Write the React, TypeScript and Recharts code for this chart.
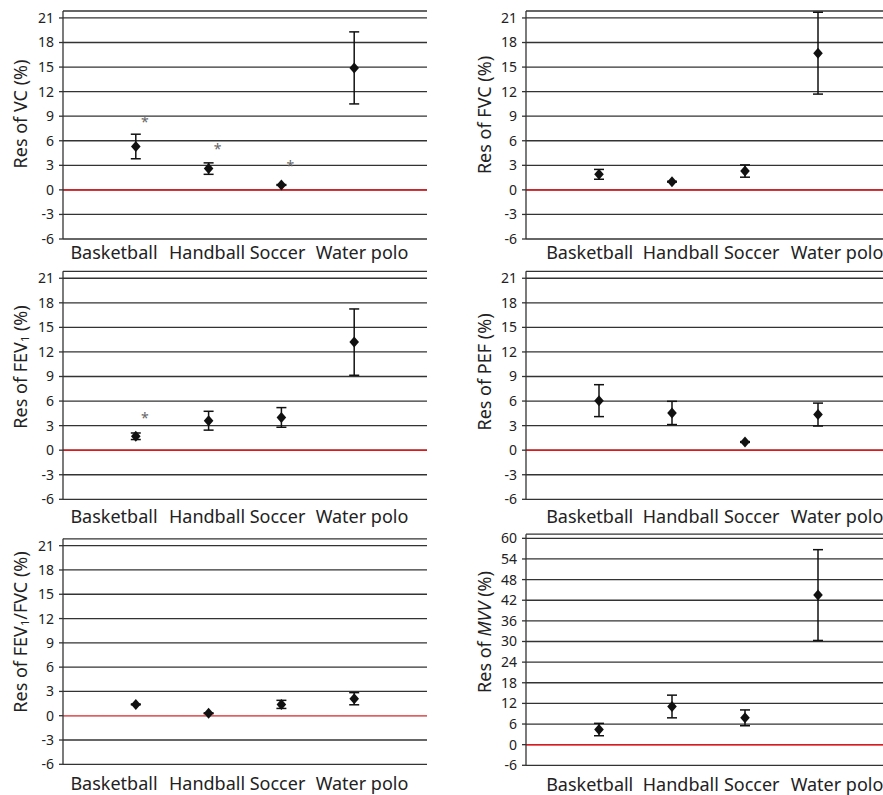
import React from 'react';
import { ScatterChart, Scatter, XAxis, YAxis, CartesianGrid, ReferenceLine, ErrorBar } from 'recharts';

const categories = ['Basketball', 'Handball', 'Soccer', 'Water polo'];
const catX = [1, 2, 3, 4];

const vcMean = [5.3, 2.6, 0.6, 14.9];
const vcSd = [1.5, 0.7, 0.05, 4.4];
const vcSig = [8.5, 5.2, 3.2, null];

const fvcMean = [1.9, 1.0, 2.3, 16.7];
const fvcSd = [0.6, 0.05, 0.75, 5.0];

const fev1Mean = [1.7, 3.6, 4.0, 13.2];
const fev1Sd = [0.4, 1.15, 1.2, 4.05];
const fev1Sig = [4.2, null, null, null];

const pefMean = [6.05, 4.55, 1.0, 4.35];
const pefSd = [1.95, 1.42, 0.05, 1.4];

const ratioMean = [1.4, 0.3, 1.4, 2.1];
const ratioSd = [0.05, 0.05, 0.5, 0.75];

const mvvMean = [4.4, 11.1, 7.8, 43.5];
const mvvSd = [1.8, 3.3, 2.3, 13.2];

const ticks21 = [-6, -3, 0, 3, 6, 9, 12, 15, 18, 21];
const ticks60 = [-6, 0, 6, 12, 18, 24, 30, 36, 42, 48, 54, 60];

const FONT = '"Noto Sans", "Open Sans", sans-serif';
const PAD = 12;

const rows = (mean: number[], sd: number[]) => mean.map((m, i) => ({ x: catX[i], y: m, err: sd[i] }));
const sigRows = (sig: (number | null)[]) =>
  sig.map((s, i) => (s == null ? null : { x: catX[i], y: s })).filter(Boolean) as { x: number; y: number }[];

const Diamond = (props: any) => {
  const { cx, cy } = props;
  if (cx == null || cy == null) return null;
  return <path d={`M${cx},${cy - 5.5}L${cx + 4.8},${cy}L${cx},${cy + 5.5}L${cx - 4.8},${cy}Z`} fill="#111" />;
};

const Star = (props: any) => {
  const { cx, cy } = props;
  if (cx == null || cy == null) return null;
  return (
    <text x={cx + 9} y={cy + 7} textAnchor="middle" fontSize={14} fill="#666" fontFamily={FONT}>
      *
    </text>
  );
};

const CatTick = (props: any) => {
  const { x, y, payload, offsets, base } = props;
  const idx = catX.indexOf(payload.value);
  if (idx < 0) return null;
  return (
    <text x={x + offsets[idx]} y={y + base} textAnchor="middle" fontSize={18} fill="#222" fontFamily={FONT}>
      {categories[idx]}
    </text>
  );
};

type PanelCfg = {
  left: number;
  top: number;
  w: number;
  h: number;
  plotLeft: number;
  plotWidth: number;
  plotTop: number;
  plotBottom: number;
  domTop: number;
  ticks: number[];
  data: { x: number; y: number; err: number }[];
  sig: { x: number; y: number }[];
  labelX: number;
  labelY: number;
  label: React.ReactNode;
  base: number;
  offsets: number[];
  red: string;
};

const leftOff = [-21.8, -1.6, -3.9, 7.8];
const rightOff = [-9.3, 8.8, 6.7, 19];

const sub1 = (
  <tspan fontSize={11} dy={4}>
    1
  </tspan>
);

const panels: PanelCfg[] = [
  {
    left: 0, top: 0, w: 440, h: 265, plotLeft: 63, plotWidth: 364, plotTop: 11, plotBottom: 239, domTop: 21.85,
    ticks: ticks21, data: rows(vcMean, vcSd), sig: sigRows(vcSig), labelX: 20, labelY: 114,
    label: <tspan>Res of VC (%)</tspan>, base: 20, offsets: leftOff, red: '#e3161b',
  },
  {
    left: 440, top: 0, w: 461, h: 265, plotLeft: 86, plotWidth: 365, plotTop: 11, plotBottom: 239, domTop: 21.85,
    ticks: ticks21, data: rows(fvcMean, fvcSd), sig: [], labelX: 44, labelY: 115,
    label: <tspan>Res of FVC (%)</tspan>, base: 20, offsets: rightOff, red: '#e3161b',
  },
  {
    left: 0, top: 265, w: 440, h: 265, plotLeft: 63, plotWidth: 364, plotTop: 6.3, plotBottom: 234.3, domTop: 21.85,
    ticks: ticks21, data: rows(fev1Mean, fev1Sd), sig: sigRows(fev1Sig), labelX: 20, labelY: 102,
    label: (
      <>
        <tspan>Res of FEV</tspan>
        {sub1}
        <tspan dy={-4}>{'  (%)'}</tspan>
      </>
    ),
    base: 24, offsets: leftOff, red: '#e3161b',
  },
  {
    left: 440, top: 265, w: 461, h: 265, plotLeft: 86, plotWidth: 365, plotTop: 6.3, plotBottom: 234.3, domTop: 21.85,
    ticks: ticks21, data: rows(pefMean, pefSd), sig: [], labelX: 44, labelY: 107,
    label: <tspan>Res of PEF (%)</tspan>, base: 24, offsets: rightOff, red: '#e3161b',
  },
  {
    left: 0, top: 530, w: 440, h: 265, plotLeft: 63, plotWidth: 364, plotTop: 8.8, plotBottom: 234.3, domTop: 21.85,
    ticks: ticks21, data: rows(ratioMean, ratioSd), sig: [], labelX: 20, labelY: 102,
    label: (
      <>
        <tspan>Res of FEV</tspan>
        {sub1}
        <tspan dy={-4}>{'/FVC (%)'}</tspan>
      </>
    ),
    base: 25.5, offsets: leftOff, red: '#ec5a5c',
  },
  {
    left: 440, top: 530, w: 461, h: 265, plotLeft: 86, plotWidth: 365, plotTop: 4.2, plotBottom: 235.3, domTop: 61.2,
    ticks: ticks60, data: rows(mvvMean, mvvSd), sig: [], labelX: 44, labelY: 102,
    label: (
      <>
        <tspan>Res of </tspan>
        <tspan fontStyle="italic">MVV</tspan>
        <tspan> (%)</tspan>
      </>
    ),
    base: 25.5, offsets: rightOff, red: '#e3161b',
  },
];

const Panel = ({ p }: { p: PanelCfg }) => {
  const h = p.h + PAD;
  const plotTop = p.plotTop + PAD;
  const plotBottom = p.plotBottom + PAD;
  const xAxisH = h - plotBottom;
  return (
    <div style={{ position: 'absolute', left: p.left, top: p.top - PAD, width: p.w, height: h, overflow: 'hidden' }}>
      <ScatterChart
        width={p.w}
        height={h}
        margin={{ top: plotTop, right: p.w - p.plotLeft - p.plotWidth, bottom: 0, left: 0 }}
      >
        <CartesianGrid vertical={false} stroke="#333" strokeWidth={1.3} />
        <XAxis
          type="number"
          dataKey="x"
          domain={[0, 5]}
          ticks={catX}
          interval={0}
          axisLine={false}
          tickLine={false}
          tickSize={0}
          tickMargin={0}
          height={xAxisH}
          tick={(tp: any) => <CatTick {...tp} offsets={p.offsets} base={p.base} />}
        />
        <YAxis
          type="number"
          dataKey="y"
          domain={[-6, p.domTop]}
          ticks={p.ticks}
          interval={0}
          allowDataOverflow
          width={p.plotLeft}
          axisLine={{ stroke: '#333', strokeWidth: 1.3 }}
          tickLine={{ stroke: '#333', strokeWidth: 1.3 }}
          tickSize={4}
          tickMargin={5}
          tick={{ fontSize: 14, fill: '#222', fontFamily: FONT }}
        />
        <ReferenceLine y={0} stroke={p.red} strokeWidth={1.5} />
        <Scatter data={p.data} shape={<Diamond />} isAnimationActive={false}>
          <ErrorBar dataKey="err" direction="y" width={5} stroke="#111" strokeWidth={1.5} />
        </Scatter>
        {p.sig.length > 0 && <Scatter data={p.sig} shape={<Star />} isAnimationActive={false} />}
      </ScatterChart>
      <svg width={p.w} height={h} style={{ position: 'absolute', left: 0, top: 0, pointerEvents: 'none' }}>
        <text
          transform={`translate(${p.labelX},${p.labelY + PAD}) rotate(-90)`}
          textAnchor="middle"
          dominantBaseline="central"
          fontSize={18}
          fill="#222"
          fontFamily={FONT}
        >
          {p.label}
        </text>
      </svg>
    </div>
  );
};

export default function App() {
  return (
    <div
      style={{
        position: 'absolute',
        left: 0,
        top: 0,
        width: 883,
        height: 795,
        overflow: 'hidden',
        background: '#fff',
      }}
    >
      {panels.map((p, i) => (
        <Panel key={i} p={p} />
      ))}
    </div>
  );
}
